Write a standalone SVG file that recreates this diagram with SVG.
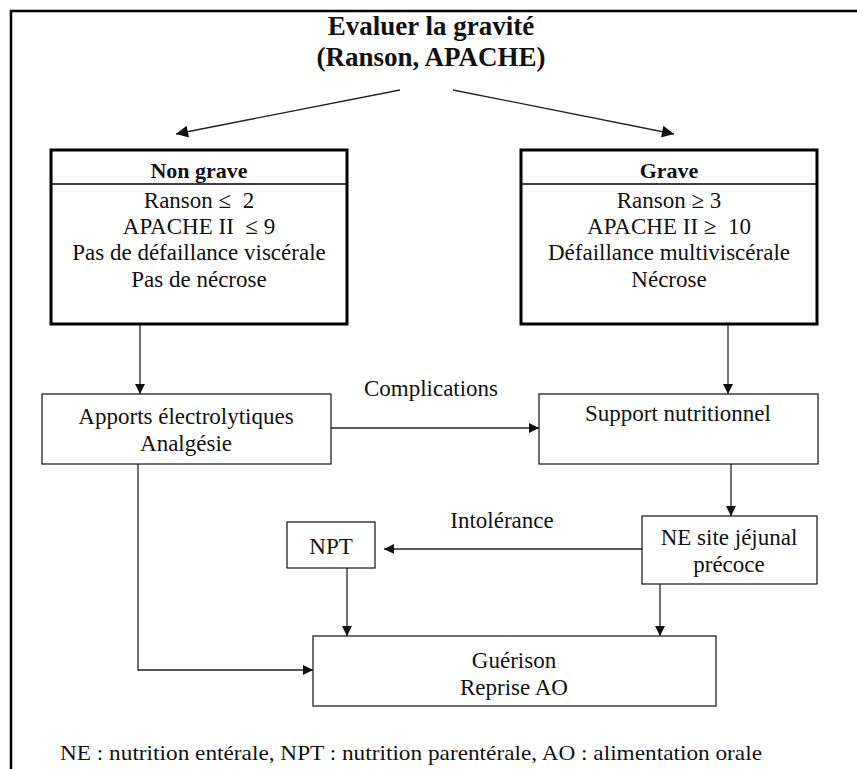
<svg xmlns="http://www.w3.org/2000/svg" width="857" height="769" viewBox="0 0 857 769">
<style>
text{font-family:"Liberation Serif","DejaVu Serif","Times New Roman",serif;fill:#111;text-anchor:middle}
.t{font-size:27px;font-weight:bold}
.b{font-size:23px}
.h{font-size:22px;font-weight:bold}
.big{fill:#fff;stroke:#000;stroke-width:3}
.sm{fill:#fff;stroke:#222;stroke-width:1.3}
.c{stroke:#222;stroke-width:1.3;fill:none}
</style>
<defs>
<marker id="ah" viewBox="0 0 10 10" refX="10" refY="5" markerWidth="10" markerHeight="10" markerUnits="userSpaceOnUse" orient="auto">
<path d="M0,0 L10,5 L0,10 z" fill="#111"/>
</marker>
<marker id="ah2" viewBox="0 0 10 10" refX="10" refY="5" markerWidth="14" markerHeight="12" markerUnits="userSpaceOnUse" orient="auto">
<path d="M0,0 L10,5 L0,10 z" fill="#111"/>
</marker>
</defs>
<path d="M11,769 V11 H857" fill="none" stroke="#000" stroke-width="2.5"/>
<g id="title">
<text class="t" x="431" y="35">Evaluer la gravité</text>
<text class="t" x="431" y="66">(Ranson, APACHE)</text>
</g>
<g id="nongrave">
<rect class="big" x="51" y="150" width="296" height="174"/>
<line x1="51" y1="184" x2="347" y2="184" stroke="#000" stroke-width="1.5"/>
<text class="h" x="199" y="178">Non grave</text>
<text class="b" x="199" y="208">Ranson ≤&#160; 2</text>
<text class="b" x="199" y="234">APACHE II&#160; ≤ 9</text>
<text class="b" x="199" y="260">Pas de défaillance viscérale</text>
<text class="b" x="199" y="287">Pas de nécrose</text>
</g>
<g id="grave">
<rect class="big" x="521" y="150" width="296" height="174"/>
<line x1="521" y1="184" x2="817" y2="184" stroke="#000" stroke-width="1.5"/>
<text class="h" x="669" y="178">Grave</text>
<text class="b" x="669" y="208">Ranson ≥ 3</text>
<text class="b" x="669" y="234">APACHE II ≥&#160; 10</text>
<text class="b" x="669" y="260">Défaillance multiviscérale</text>
<text class="b" x="669" y="287">Nécrose</text>
</g>
<g id="apports">
<rect class="sm" x="42" y="394" width="289" height="70"/>
<text class="b" x="186" y="424">Apports électrolytiques</text>
<text class="b" x="186" y="451">Analgésie</text>
</g>
<g id="support">
<rect class="sm" x="539" y="394" width="279" height="70"/>
<text class="b" x="678" y="421">Support nutritionnel</text>
</g>
<g id="npt">
<rect class="sm" x="287" y="522" width="88" height="46"/>
<text class="b" x="331" y="554">NPT</text>
</g>
<g id="ne">
<rect class="sm" x="642" y="516" width="175" height="68"/>
<text class="b" x="729" y="545">NE site jéjunal</text>
<text class="b" x="729" y="572">précoce</text>
</g>
<g id="guerison">
<rect class="sm" x="313" y="636" width="403" height="70"/>
<text class="b" x="514" y="668">Guérison</text>
<text class="b" x="514" y="695">Reprise AO</text>
</g>
<g id="connectors">
<line class="c" x1="400" y1="90" x2="176" y2="134" marker-end="url(#ah2)"/>
<line class="c" x1="453" y1="90" x2="674" y2="134" marker-end="url(#ah2)"/>
<line class="c" x1="140" y1="325" x2="140" y2="394" marker-end="url(#ah)"/>
<line class="c" x1="728" y1="325" x2="728" y2="394" marker-end="url(#ah)"/>
<line class="c" x1="331" y1="428" x2="539" y2="428" marker-end="url(#ah)"/>
<line class="c" x1="731" y1="464" x2="731" y2="516" marker-end="url(#ah)"/>
<line class="c" x1="642" y1="549" x2="384" y2="549" marker-end="url(#ah)"/>
<line class="c" x1="347" y1="568" x2="347" y2="636" marker-end="url(#ah)"/>
<line class="c" x1="660" y1="584" x2="660" y2="636" marker-end="url(#ah)"/>
<polyline class="c" points="138,464 138,670 313,670" marker-end="url(#ah)"/>
<text class="b" x="431" y="396">Complications</text>
<text class="b" x="502" y="528">Intolérance</text>
</g>
<text x="411" y="760" style="font-size:21px" textLength="702" lengthAdjust="spacingAndGlyphs">NE : nutrition entérale, NPT : nutrition parentérale, AO : alimentation orale</text>
</svg>
